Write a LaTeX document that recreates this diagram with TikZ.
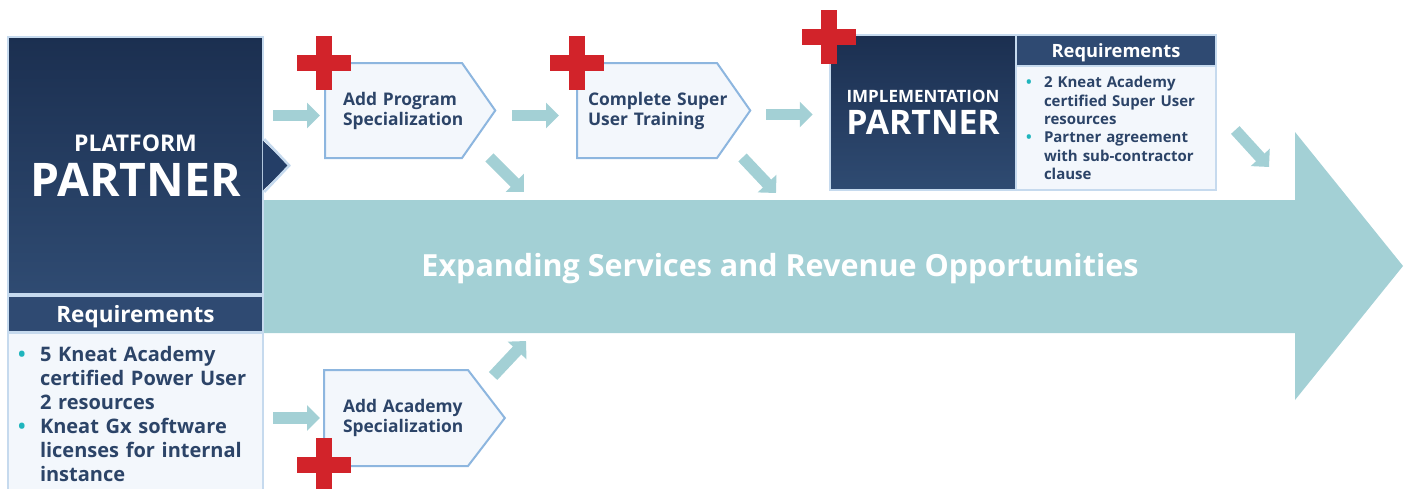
\documentclass[tikz,border=0pt]{standalone}
\usepackage{fontspec}
\setmainfont{Open Sans}
\usetikzlibrary{arrows.meta,positioning,calc,shapes.symbols}

\definecolor{navytop}{HTML}{1B2F50}
\definecolor{navybot}{HTML}{2F4B72}
\definecolor{navymid}{HTML}{243E67}
\definecolor{navyhead}{HTML}{2F4A72}
\definecolor{edge}{HTML}{C6DAEE}
\definecolor{paper}{HTML}{F3F7FC}
\definecolor{ink}{HTML}{2C4468}
\definecolor{stepedge}{HTML}{8DB6DF}
\definecolor{flowteal}{HTML}{A3D0D5}
\definecolor{dotteal}{HTML}{1FB5BD}
\definecolor{crossred}{HTML}{D2232A}

\newcommand{\pbullet}[1]{\makebox[#1][l]{\textcolor{dotteal}{\textbullet}}}

\begin{document}
\begin{tikzpicture}[x=1pt, y=-1pt,
  partner/.style={rectangle, draw=edge, line width=2.5pt, top color=navytop, bottom color=navybot, text=white, align=center, font=\bfseries},
  reqhead/.style={rectangle, draw=edge, line width=2.5pt, fill=navyhead, text=white, text depth=0pt},
  reqlist/.style={rectangle, draw=edge, line width=2.5pt, fill=paper, text=ink, align=left, inner xsep=10pt},
  stepbox/.style={signal, signal to=east, signal pointer angle=110, draw=stepedge, line width=2pt, fill=paper, text=ink, minimum height=95pt, align=left, font=\fontsize{17.4}{20}\selectfont\bfseries},
  flowarr/.style={flowteal, line width=11.5pt, -{Triangle[width=25pt, length=13pt]}},
  redcross/.pic={
    \fill[crossred] (-27,-8.3) rectangle (27,8.3);
    \fill[crossred] (-8.3,-27) rectangle (8.3,27);
  },
]
\useasboundingbox (0,0) rectangle (1407,488);

% big flow arrow
\fill[flowteal] (263,200) -- (1295,200) -- (1295,132) -- (1403,266) -- (1295,400) -- (1295,333) -- (263,333) -- cycle;
\node[text=white, font=\fontsize{30.5}{34}\selectfont\bfseries] (flow) at (780,269) {Expanding Services and Revenue Opportunities};

% platform partner column
\node[partner, minimum width=255pt, minimum height=257pt] (pp) at (135.5,165.5)
  {\fontsize{23}{28}\selectfont PLATFORM\\[11pt] \fontsize{46.3}{40}\selectfont PARTNER};
\fill[navymid] ($(pp.east)+(-1.5,-25)$) -- ($(pp.east)+(25,0)$) -- ($(pp.east)+(-1.5,25)$) -- cycle;
\draw[edge, line width=2.5pt] ($(pp.east)+(0,-26.5)$) -- ($(pp.east)+(25,0)$) -- ($(pp.east)+(0,26.5)$);
\node[reqhead, minimum width=255pt, minimum height=36pt, font=\fontsize{22.5}{24}\selectfont\bfseries] (ppreq) at (135.5,314) {Requirements};
\node[reqlist, text width=235pt, minimum height=161pt, font=\fontsize{20}{24}\selectfont\bfseries] (pplist) at (135.5,413.5)
  {\pbullet{22pt}5 Kneat Academy\\ \hspace*{22pt}certified Power User\\ \hspace*{22pt}2 resources\\
   \pbullet{22pt}Kneat Gx software\\ \hspace*{22pt}licenses for internal\\ \hspace*{22pt}instance};

% implementation partner block
\node[partner, minimum width=186pt, minimum height=155pt] (ip) at (923,112.5)
  {\fontsize{17}{22}\selectfont IMPLEMENTATION\\[7pt] \fontsize{33.8}{30}\selectfont PARTNER};
\node[reqhead, minimum width=200pt, minimum height=31pt, font=\fontsize{18.3}{20}\selectfont\bfseries] (ipreq) at (1116,50.5) {Requirements};
\node[reqlist, text width=180pt, minimum height=124pt, font=\fontsize{15}{18.3}\selectfont\bfseries] (iplist) at (1116,128)
  {\pbullet{18pt}2 Kneat Academy\\ \hspace*{18pt}certified Super User\\ \hspace*{18pt}resources\\
   \pbullet{18pt}Partner agreement\\ \hspace*{18pt}with sub-contractor\\ \hspace*{18pt}clause};

% steps
\node[stepbox, inner xsep=18pt, text width=101pt] (prog) at (393.5,110.5) {\mbox{Add Program}\\\mbox{Specialization}};
\node[stepbox, inner xsep=11pt, text width=118pt] (comp) at (647,110.5) {\mbox{Complete Super}\\\mbox{User Training}};
\node[stepbox, inner xsep=19pt, text width=106pt, minimum height=96pt, signal pointer angle=105] (acad) at (396,418) {\mbox{Add Academy}\\\mbox{Specialization}};

% ends on the big arrow
\coordinate (t1) at (524,192);
\coordinate (t2) at (776,193);
\coordinate (t3) at (1269,167);
\coordinate (t4) at (526,341);

% connectors
\draw[flowarr, shorten <=9pt, shorten >=4pt] ($(pp.east |- prog.west)+(0,5)$) -- ($(prog.west)+(0,5)$);
\draw[flowarr, shorten <=16pt, shorten >=17pt] ($(prog.east)+(0,5)$) -- ($(comp.west)+(0,5)$);
\draw[flowarr, shorten <=15pt, shorten >=16pt] ($(comp.east)+(0,4)$) -- ($(ip.west |- comp.east)+(0,4)$);
\draw[flowarr, shorten <=9pt, shorten >=3pt] (pp.east |- acad.west) -- (acad.west);
\draw[flowarr] ([xshift=-7pt, yshift=-47pt]prog.east) -- (t1);
\draw[flowarr] ([xshift=-9pt, yshift=-47pt]comp.east) -- (t2);
\draw[flowarr] ([xshift=18pt, yshift=-2pt]iplist.east) -- (t3);
\draw[flowarr] ([xshift=-13pt, yshift=42pt]acad.east) -- (t4);

% plus marks
\pic at (324,63) {redcross};
\pic at (577,63) {redcross};
\pic at (829,37) {redcross};
\pic at (324,465) {redcross};

\end{tikzpicture}
\end{document}
